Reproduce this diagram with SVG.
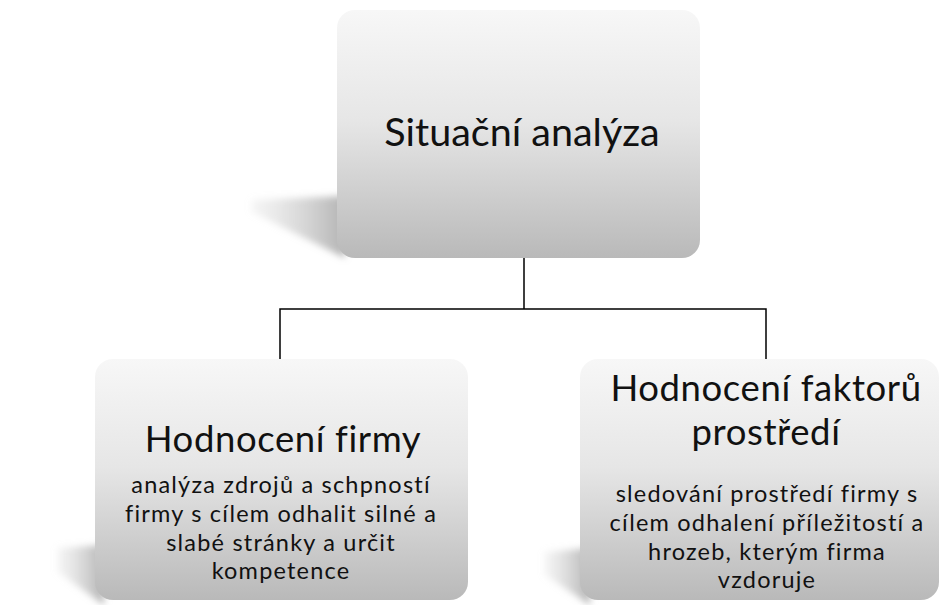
<svg xmlns="http://www.w3.org/2000/svg" width="941" height="605" viewBox="0 0 941 605">
<defs>
<linearGradient id="g" x1="0" y1="0" x2="0" y2="1">
<stop offset="0" stop-color="#f7f7f7"/>
<stop offset="0.45" stop-color="#e6e6e6"/>
<stop offset="1" stop-color="#b9b9b9"/>
</linearGradient>
<linearGradient id="sh" x1="1" y1="0" x2="0" y2="0">
<stop offset="0" stop-color="#999999" stop-opacity="0.75"/>
<stop offset="1" stop-color="#cccccc" stop-opacity="0.2"/>
</linearGradient>
<filter id="blur" x="-20%" y="-50%" width="140%" height="200%"><feGaussianBlur stdDeviation="3.5"/></filter>
<style>
.box{fill:url(#g)}
.shadow{fill:url(#sh);filter:url(#blur)}
.t{font-family:Lato,"Liberation Sans",sans-serif;fill:#111;text-anchor:middle}
.h1{font-size:39.5px}
.h2{font-size:36.5px;letter-spacing:0.6px}
.d{font-size:23.5px;letter-spacing:1.2px}
.c{fill:none;stroke:#000;stroke-width:1.5}
</style>
</defs>
<g id="connectors">
<path class="c" d="M524 258V309M280 309H766M280 308.3V359M766 308.3V359"/>
</g>
<g id="node-top">
<polygon class="shadow" points="345,196 252,200 252,212 345,258"/>
<rect class="box" x="337" y="10" width="363" height="248" rx="18"/>
<text class="t h1" x="522" y="146">Situační analýza</text>
</g>
<g id="node-left">
<polygon class="shadow" points="104,545 58,548 58,572 104,605"/>
<rect class="box" x="95" y="359" width="373" height="241" rx="18"/>
<text class="t h2" x="283" y="452">Hodnocení firmy</text>
<text class="t d" x="281" y="493">analýza zdrojů a schpností</text>
<text class="t d" x="281" y="522">firmy s cílem odhalit silné a</text>
<text class="t d" x="281" y="551">slabé stránky a určit</text>
<text class="t d" x="281" y="579">kompetence</text>
</g>
<g id="node-right">
<polygon class="shadow" points="590,548 545,552 545,575 590,605"/>
<rect class="box" x="580" y="359" width="359" height="241" rx="18"/>
<text class="t h2" x="766" y="401">Hodnocení faktorů</text>
<text class="t h2" x="766" y="445">prostředí</text>
<text class="t d" x="767" y="502">sledování prostředí firmy s</text>
<text class="t d" x="767" y="531">cílem odhalení příležitostí a</text>
<text class="t d" x="767" y="560">hrozeb, kterým firma</text>
<text class="t d" x="767" y="588">vzdoruje</text>
</g>
</svg>
